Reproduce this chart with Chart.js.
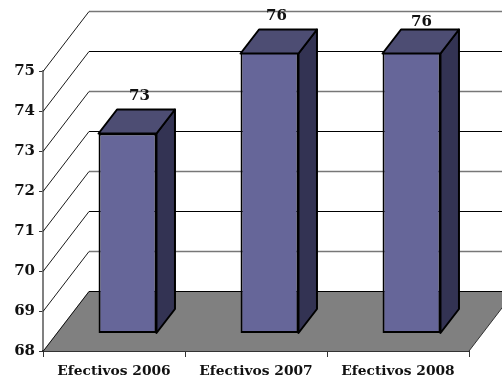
<!DOCTYPE html>
<html>
<head>
<meta charset="utf-8">
<style>
  html, body { margin: 0; padding: 0; background: #fff; }
  canvas { display: block; }
</style>
<script src="https://cdn.jsdelivr.net/npm/chart.js@4/dist/chart.umd.min.js"></script>
</head>
<body>
<canvas id="chart1" width="502" height="379"></canvas>
<script>
var categories = ['Efectivos 2006', 'Efectivos 2007', 'Efectivos 2008'];
var efectivos = [73, 76, 76];
var axisMin = 68;
var axisMax = 75;

var FONT = '"DejaVu Serif", serif';

// depth of the floor, and how far the bars stand inside it
var wallDx = 46, wallDy = -60;
var barDx = 13.5, barDy = -17.5;
var sideDx = 18.5, sideDy = -24;

// data labels sit a little unevenly above the bars
var labelDx = [12, 7, 10];
var labelDy = [-13, -13, -7];

function poly(ctx, pts) {
    ctx.beginPath();
    ctx.moveTo(pts[0][0], pts[0][1]);
    for (var i = 1; i < pts.length; i++) ctx.lineTo(pts[i][0], pts[i][1]);
    ctx.closePath();
}

// floor, back wall gridlines and the diagonals on the left wall
var wallPlugin = {
    id: 'wall',
    beforeDatasetsDraw: function (chart) {
        var ctx = chart.ctx, a = chart.chartArea, y = chart.scales.y;
        var front = y.getPixelForValue(axisMin);

        ctx.save();
        poly(ctx, [[a.left, front], [a.left + wallDx, front + wallDy],
                   [a.right + wallDx, front + wallDy], [a.right, front]]);
        ctx.fillStyle = '#808080';
        ctx.fill();

        for (var v = axisMin; v <= axisMax; v++) {
            var py = Math.round(y.getPixelForValue(v)) + 0.5;
            ctx.strokeStyle = (axisMax - v) % 2 === 0 ? '#777' : '#000';
            ctx.lineWidth = (axisMax - v) % 2 === 0 ? 1.4 : 1;
            ctx.beginPath();
            ctx.moveTo(a.left + wallDx, py + wallDy);
            ctx.lineTo(a.right + wallDx, py + wallDy);
            ctx.stroke();

            ctx.strokeStyle = '#000';
            ctx.lineWidth = 0.9;
            ctx.beginPath();
            ctx.moveTo(a.left, py);
            ctx.lineTo(a.left + wallDx, py + wallDy);
            ctx.stroke();
        }

        // right edge of the floor
        ctx.strokeStyle = '#333';
        ctx.lineWidth = 1;
        ctx.beginPath();
        ctx.moveTo(a.right, front);
        ctx.lineTo(a.right + wallDx, front + wallDy);
        ctx.stroke();
        ctx.restore();
    }
};

// pushes the bars into the floor, then adds top and side faces and the labels
var boxPlugin = {
    id: 'box',
    beforeDatasetDraw: function (chart) {
        chart.ctx.save();
        chart.ctx.translate(barDx, barDy);
    },
    afterDatasetDraw: function (chart, args) {
        var ctx = chart.ctx, y = chart.scales.y;
        ctx.restore();

        ctx.save();
        ctx.lineWidth = 2;
        ctx.strokeStyle = '#000';
        ctx.lineJoin = 'round';
        args.meta.data.forEach(function (bar, i) {
            var p = bar.getProps(['x', 'width', 'base'], true);
            var l = p.x - p.width / 2 + barDx;
            var r = p.x + p.width / 2 + barDx;
            var t = y.getPixelForValue(Math.min(efectivos[i], axisMax)) + barDy;
            var b = p.base + barDy;

            poly(ctx, [[r, t], [r + sideDx, t + sideDy], [r + sideDx, b + sideDy], [r, b]]);
            ctx.fillStyle = '#333353';
            ctx.fill();
            ctx.stroke();

            poly(ctx, [[l, t], [l + sideDx, t + sideDy], [r + sideDx, t + sideDy], [r, t]]);
            ctx.fillStyle = '#4d4d73';
            ctx.fill();
            ctx.stroke();

            ctx.fillStyle = '#111';
            ctx.font = 'bold 15px ' + FONT;
            ctx.textAlign = 'center';
            ctx.textBaseline = 'middle';
            ctx.fillText(String(efectivos[i]),
                (l + r) / 2 + labelDx[i],
                t + sideDy + labelDy[i]);
        });
        ctx.restore();
    }
};

var ctx = document.getElementById('chart1').getContext('2d');

var myChart = new Chart(ctx, {
    type: 'bar',
    data: {
        labels: categories,
        datasets: [{
            data: efectivos,
            base: axisMin,
            backgroundColor: '#666699',
            borderColor: '#000',
            borderWidth: 2,
            borderSkipped: false,
            barPercentage: 0.408,
            categoryPercentage: 1,
            clip: 0
        }]
    },
    options: {
        responsive: false,
        animation: false,
        layout: { padding: { top: 71, right: 33, left: 0, bottom: 0 } },
        plugins: {
            legend: { display: false },
            tooltip: { enabled: false }
        },
        scales: {
            y: {
                min: axisMin,
                max: axisMax,
                afterFit: function (scale) { scale.width = 43; },
                border: { color: '#808080', width: 2 },
                grid: { drawOnChartArea: false, color: '#333', tickLength: 4 },
                ticks: {
                    stepSize: 1,
                    color: '#111',
                    padding: 4,
                    font: { family: FONT, size: 15, weight: 'bold' }
                }
            },
            x: {
                afterFit: function (scale) { scale.height = 28; },
                border: { color: '#333', width: 2 },
                grid: { drawOnChartArea: false, color: '#333', tickLength: 6 },
                ticks: {
                    color: '#111',
                    padding: 6,
                    maxRotation: 0,
                    font: { family: FONT, size: 13.8, weight: 'bold' }
                }
            }
        }
    },
    plugins: [wallPlugin, boxPlugin]
});
</script>
</body>
</html>
